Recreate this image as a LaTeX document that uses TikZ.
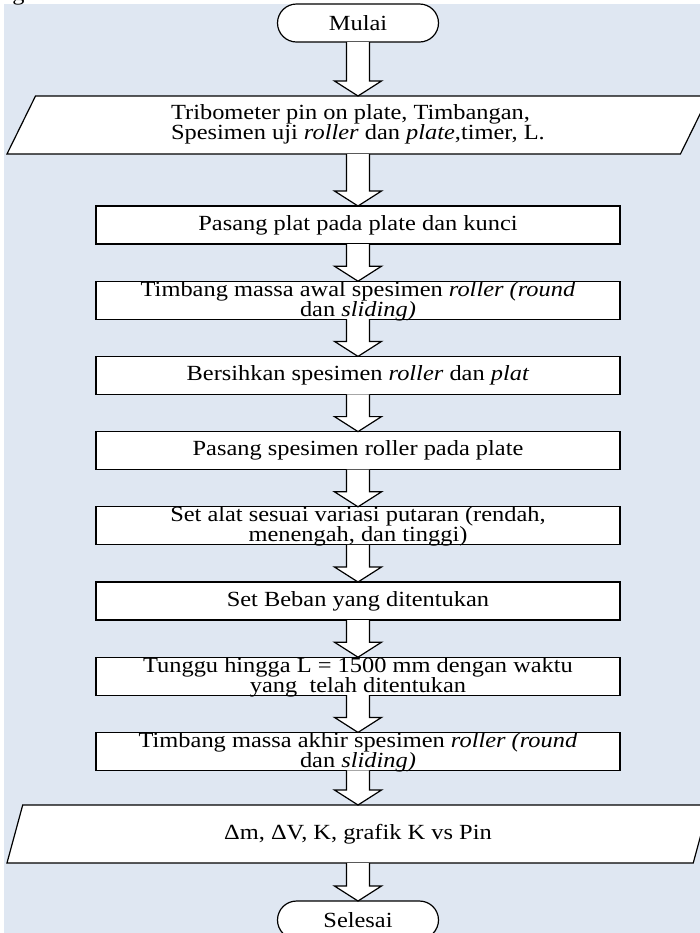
\documentclass[tikz,border=0pt]{standalone}
\usepackage{fontspec}
\setmainfont[FakeStretch=1.13]{Liberation Serif}
\usetikzlibrary{positioning,shapes.geometric,shapes.misc,calc}
\definecolor{bgblue}{RGB}{223,231,242}
\newcommand\flowfont{\fontsize{10.8}{10}\selectfont\lineskiplimit=-6pt\relax}

\begin{document}
\begin{tikzpicture}[x=0.5pt,y=-0.5pt,node distance=18.6pt,font=\flowfont,line width=0.6pt,term/.style={draw,fill=white,rounded rectangle,minimum width=80.5pt,minimum height=19pt,inner sep=0pt,outer sep=0pt},io/.style={draw,fill=white,trapezium,trapezium left angle=51.6,trapezium right angle=128.4,trapezium stretches body,minimum width=351pt,minimum height=29pt,inner sep=0pt,outer sep=0pt,align=left},proc/.style={draw,fill=white,minimum width=262pt,minimum height=19pt,inner sep=0pt,outer sep=0pt,align=center},twoline/.style={proc,text height=17pt,text depth=1pt},blk/.style={draw,fill=white,line join=miter}]
\useasboundingbox (0,0) rectangle (700,933);
\fill[bgblue] (4,4) rectangle (700,933);
\node[anchor=base west] (fig) at (5,0) {g};
\node[term] (mulai) at (358,23) {Mulai};
\node[io,text height=16pt,text depth=2pt,below=27pt of mulai] (alat) {Tribometer pin on plate, Timbangan,\\Spesimen uji \textit{roller} dan \textit{plate},timer, L.};
\node[proc,below=26pt of alat] (pasang) {Pasang plat pada plate dan kunci};
\node[twoline,below=of pasang] (awal) {Timbang massa awal spesimen \textit{roller (round}\\dan \textit{sliding)}};
\node[proc,below=of awal] (bersih) {Bersihkan spesimen \textit{roller} dan \textit{plat}};
\node[proc,below=of bersih] (roller) {Pasang spesimen roller pada plate};
\node[twoline,below=of roller] (putaran) {Set alat sesuai variasi putaran (rendah,\\menengah, dan tinggi)};
\node[proc,below=of putaran] (beban) {Set Beban yang ditentukan};
\node[twoline,below=of beban] (tunggu) {Tunggu hingga L = 1500 mm dengan waktu\\yang\ \ telah ditentukan};
\node[twoline,below=of tunggu] (akhir) {Timbang massa akhir spesimen \textit{roller (round}\\dan \textit{sliding)}};
\node[io,below=17.3pt of akhir,align=center] (hasil) {Δm, ΔV, K, grafik K vs Pin};
\node[term,below=19pt of hasil] (selesai) {Selesai};
% block arrows
\foreach \a/\b in {mulai/alat,alat/pasang,pasang/awal,awal/bersih,bersih/roller,roller/putaran,putaran/beban,beban/tunggu,tunggu/akhir,akhir/hasil,hasil/selesai}
  \draw[blk] ($(\a.south)+(-11.5,0)$) -- ($(\b.north)+(-11.5,-15)$) -- ($(\b.north)+(-23.5,-15)$) -- (\b.north) -- ($(\b.north)+(23.5,-15)$) -- ($(\b.north)+(11.5,-15)$) -- ($(\a.south)+(11.5,0)$);
\end{tikzpicture}
\end{document}
